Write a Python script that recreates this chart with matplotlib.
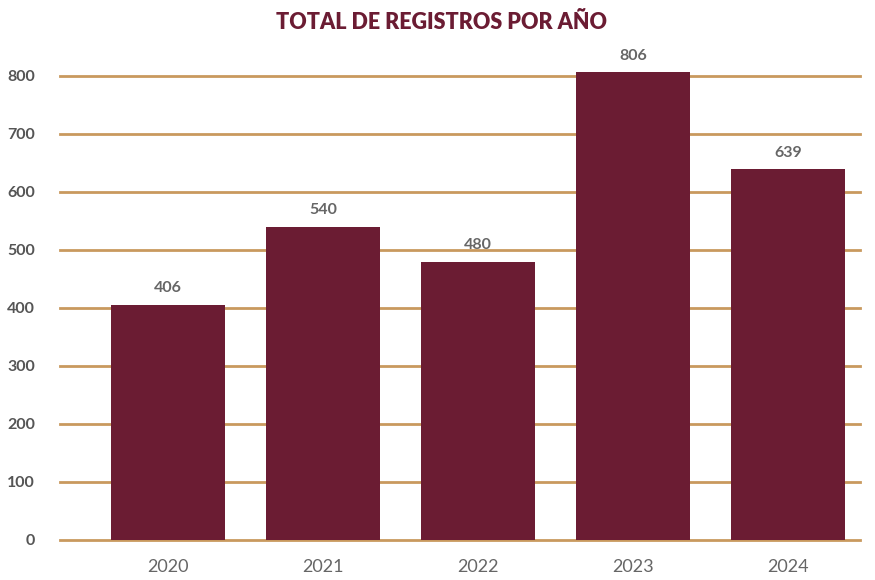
import matplotlib
matplotlib.use("Agg")
import matplotlib.pyplot as plt

# data
years = ["2020", "2021", "2022", "2023", "2024"]
totals = [406, 540, 480, 806, 639]
yticks = [0, 100, 200, 300, 400, 500, 600, 700, 800]

plt.rcParams['font.family'] = ['Lato', 'DejaVu Sans']

bar_color = "#6B1C33"
grid_color = "#C9995E"
text_gray = "#666666"

fig = plt.figure(figsize=(8.75, 5.8), dpi=100)
ax = fig.add_axes([0.0686, 0.069, 0.9144, 0.82])

x = list(range(len(years)))
bars = ax.bar(x, totals, width=0.73, color=bar_color, zorder=3)

for xi, v in zip(x, totals):
    ax.annotate(str(v), (xi, v), xytext=(0, 7), textcoords="offset points",
                ha="center", va="bottom", fontsize=11.5, fontweight="bold",
                color=text_gray)

ax.set_xlim(-0.697, 4.465)
ax.set_ylim(0, 820)
ax.set_yticks(yticks)
ax.set_xticks(x)
ax.set_xticklabels(years)

for y in yticks:
    ax.axhline(y, color=grid_color, linewidth=2, zorder=1, clip_on=False)

for s in ax.spines.values():
    s.set_visible(False)
ax.tick_params(axis="both", length=0)
ax.tick_params(axis="y", pad=18, labelsize=11.5, labelcolor="#555555")
ax.tick_params(axis="x", pad=14, labelsize=13, labelcolor=text_gray)
for lab in ax.get_yticklabels():
    lab.set_fontweight("bold")

fig.text(0.505, 0.962, "TOTAL DE REGISTROS POR AÑO", ha="center", va="center",
         fontsize=15.5, fontweight="heavy", color=bar_color)

fig.savefig("out.png", dpi=100)
